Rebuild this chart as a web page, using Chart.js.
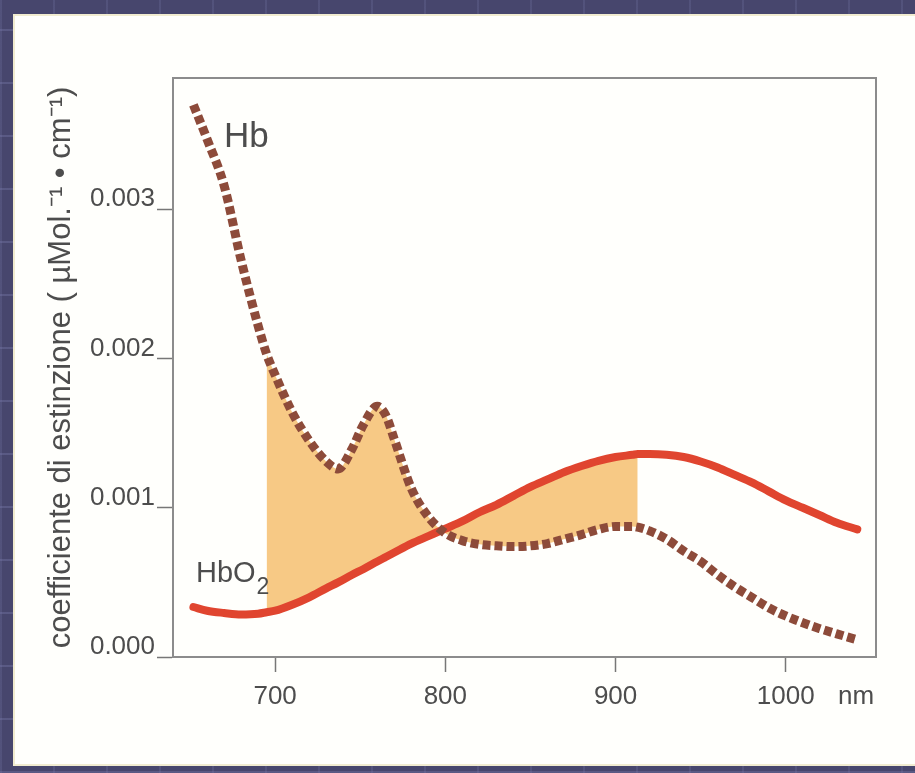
<!DOCTYPE html>
<html><head><meta charset="utf-8">
<script src="https://cdn.jsdelivr.net/npm/chart.js@4.4.0/dist/chart.umd.min.js"></script>
<style>
html,body{margin:0;padding:0;width:915px;height:773px;overflow:hidden;}
body{background-color:#47466d;
background-image:repeating-linear-gradient(0deg, rgba(125,125,175,0.35) 0 2px, transparent 2px 53px),
repeating-linear-gradient(90deg, rgba(125,125,175,0.22) 0 2px, transparent 2px 53px);}
#panel{position:absolute;left:13px;top:14px;width:900px;height:748px;background:#fffffc;border:2px solid #f1ecd0;}
#wrap{position:absolute;left:0;top:0;width:915px;height:773px;}
</style></head>
<body><div id="panel"></div><div id="wrap"><canvas id="c"></canvas></div>
<script>
// wavelength (nm)
const wavelengths = [652,660,670,680,690,695,700,710,720,730,737,745,752,760,765,770,780,790,800,810,820,830,840,850,860,870,880,890,900,910,913,920,930,940,950,960,970,980,990,1000,1010,1020,1030,1042];
// Hb extinction coefficient
const hbValues = [0.00370,0.00347,0.00316,0.00266,0.00222,0.00203,0.00189,0.00164,0.00145,0.00131,0.00126,0.00139,0.00156,0.00168,0.00162,0.00146,0.00113,0.00094,0.00083,0.00078,0.000755,0.000745,0.00074,0.000745,0.00076,0.00079,0.00082,0.000855,0.000875,0.000875,0.00087,0.000845,0.00079,0.00071,0.00064,0.00055,0.00047,0.00040,0.00033,0.000275,0.00023,0.00019,0.000155,0.000115];
// HbO2 extinction coefficient
const hbo2Values = [0.000335,0.00031,0.000295,0.000285,0.00029,0.00030,0.00031,0.00035,0.00040,0.00046,0.00050,0.00055,0.00059,0.00064,0.00067,0.00070,0.00076,0.00081,0.00086,0.00091,0.00097,0.00102,0.00108,0.00114,0.00119,0.00124,0.00128,0.001315,0.00134,0.001355,0.00136,0.00136,0.001355,0.00134,0.00131,0.00127,0.00122,0.00117,0.00111,0.00105,0.00100,0.00095,0.00090,0.000855];
const xTickValues = [700,800,900,1000];
const yTickValues = [0,0.001,0.002,0.003];
const fillRange = [695,913];
const yTitle = 'coefficiente di estinzione ( µMol.⁻¹ • cm⁻¹)';

const FONT = '"Liberation Sans Narrow", "Liberation Sans", Arial, sans-serif';
const TXT = '#4d4d4d';

const pts = vals => wavelengths.map((w,i)=>({x:w,y:vals[i]}));
const inRange = p => p.x>=fillRange[0] && p.x<=fillRange[1];

const labelPlugin = {
  id:'labels',
  beforeDatasetsDraw(chart){
    const {ctx, chartArea:a} = chart;
    ctx.save();
    ctx.strokeStyle='#8c8c8c'; ctx.lineWidth=2;
    ctx.beginPath();
    ctx.moveTo(a.left, a.top); ctx.lineTo(a.right, a.top); ctx.lineTo(a.right, a.bottom);
    ctx.stroke();
    ctx.restore();
  },
  afterDatasetsDraw(chart){
    const {ctx, chartArea:a, scales:{x,y}} = chart;
    ctx.save();
    ctx.fillStyle=TXT; ctx.textBaseline='alphabetic'; ctx.textAlign='left';
    ctx.font='35px '+FONT;
    ctx.fillText('Hb', x.getPixelForValue(670), y.getPixelForValue(0.003416));
    const hx = x.getPixelForValue(653.5), hy = y.getPixelForValue(0.000502);
    ctx.font='29px '+FONT;
    ctx.fillText('HbO', hx, hy);
    const w = ctx.measureText('HbO').width;
    ctx.font='23px '+FONT;
    ctx.fillText('2', hx+w+1, hy+12);
    ctx.font='26px '+FONT;
    ctx.fillText('nm', a.right-38, a.bottom+47);
    ctx.restore();
  }
};

new Chart(document.getElementById('c'), {
  type:'scatter',
  data:{datasets:[
    {label:'Hb', data:pts(hbValues), showLine:true, borderColor:'#8d4b3a', borderWidth:9, borderDash:[8,4], borderCapStyle:'butt', pointRadius:0, fill:false, cubicInterpolationMode:'monotone'},
    {label:'HbO2', data:pts(hbo2Values), showLine:true, borderColor:'#e0452f', borderWidth:8, borderCapStyle:'round', pointRadius:0, fill:false, cubicInterpolationMode:'monotone'},
    {label:'fillHb', data:pts(hbValues).filter(inRange), showLine:true, borderWidth:0, borderColor:'rgba(0,0,0,0)', pointRadius:0, backgroundColor:'#f7c985', fill:'+1', cubicInterpolationMode:'monotone'},
    {label:'fillHbO2', data:pts(hbo2Values).filter(inRange), showLine:true, borderWidth:0, borderColor:'rgba(0,0,0,0)', pointRadius:0, fill:false, cubicInterpolationMode:'monotone'}
  ]},
  options:{
    responsive:true, maintainAspectRatio:false, animation:false, events:[],
    layout:{padding:{top:78,right:39,left:0,bottom:0}},
    plugins:{legend:{display:false}, tooltip:{enabled:false}, filler:{drawTime:'beforeDatasetsDraw'}},
    scales:{
      x:{type:'linear', min:640, max:1053,
        afterBuildTicks:s=>{s.ticks=xTickValues.map(v=>({value:v}));},
        afterFit:s=>{s.height=116;},
        ticks:{font:{family:FONT,size:26}, color:TXT, padding:9, maxRotation:0, autoSkip:false, callback:v=>String(v)},
        grid:{drawOnChartArea:false, drawTicks:true, tickLength:15, tickColor:'#777', tickWidth:1.5},
        border:{color:'#8c8c8c', width:2}},
      y:{type:'linear', min:0, max:0.00388,
        afterBuildTicks:s=>{s.ticks=yTickValues.map(v=>({value:v}));},
        afterFit:s=>{s.width=173;},
        ticks:{font:{family:FONT,size:26}, color:TXT, padding:2, labelOffset:-10, callback:v=>v.toFixed(3)},
        grid:{drawOnChartArea:false, drawTicks:true, tickLength:16, tickColor:'#777', tickWidth:1.5},
        border:{color:'#8c8c8c', width:2},
        title:{display:true, text:yTitle, color:TXT, font:{family:'"Liberation Sans", Arial, sans-serif', size:31}, padding:{top:43,bottom:0}}}
    }
  },
  plugins:[labelPlugin]
});
</script>
</body></html>
